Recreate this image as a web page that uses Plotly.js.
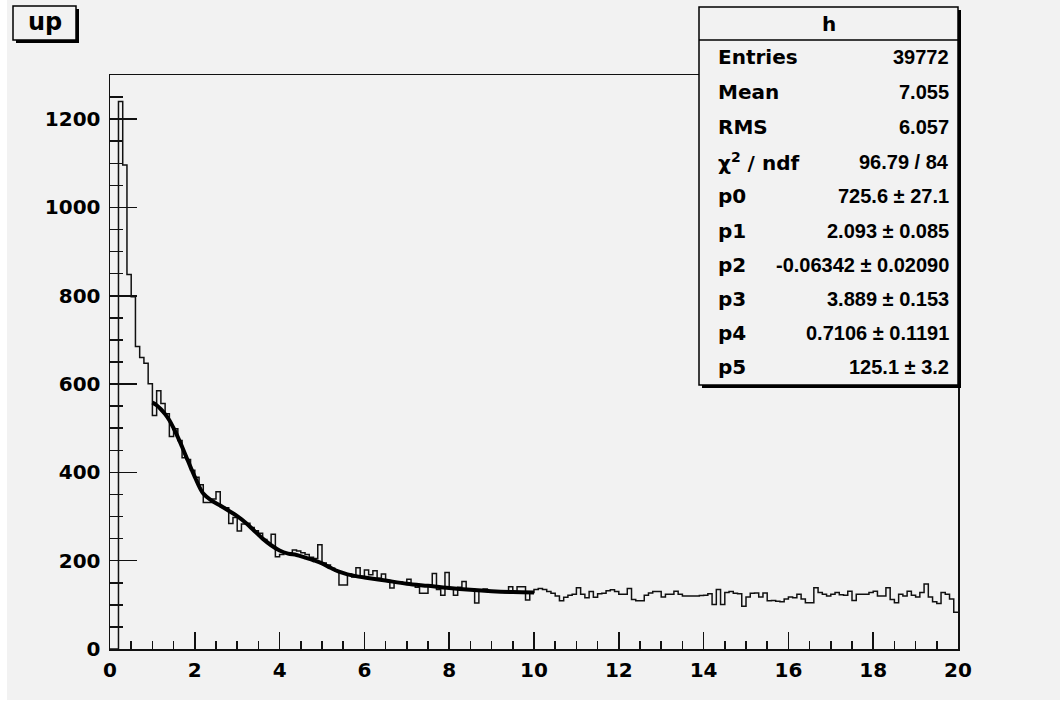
<!DOCTYPE html>
<html>
<head>
<meta charset="utf-8">
<script src="https://cdn.plot.ly/plotly-3.0.1.min.js"></script>
<style>
  html, body { margin: 0; padding: 0; background: #ffffff; }
  #chart { position: absolute; left: 7px; top: 0px; width: 1053px; height: 700px; }
</style>
</head>
<body>
<div id="chart"></div>
<script>
// ---- histogram "h": 200 bins from 0 to 20 ----
const xMin = 0;
const xMax = 20;
const binWidth = 0.1;
const counts = [
  // 0.0 - 0.9
  0, 0, 1240, 1096, 848, 798, 685, 660, 647, 601,
  // 1.0 - 1.9
  529, 585, 556, 533, 481, 499, 472, 433, 429, 405,
  // 2.0 - 2.9
  389, 372, 332, 332, 340, 356, 322, 320, 284, 298,
  // 3.0 - 3.9
  267, 283, 285, 275, 268, 262, 248, 240, 260, 209,
  // 4.0 - 4.9
  214, 218, 218, 224, 222, 218, 214, 208, 205, 236,
  // 5.0 - 5.9
  195, 190, 183, 177, 145, 145, 170, 163, 184, 165,
  // 6.0 - 6.9
  179, 168, 177, 160, 170, 155, 138, 150, 152, 147,
  // 7.0 - 7.9
  158, 148, 140, 126, 126, 145, 171, 135, 122, 173,
  // 8.0 - 8.9
  137, 122, 140, 153, 135, 136, 104, 134, 136, 130,
  // 9.0 - 9.9
  132, 130, 131, 128, 141, 128, 141, 141, 111, 128,
  // 10.0 - 10.9
  135, 137, 135, 130, 126, 120, 109, 117, 122, 124,
  // 11.0 - 11.9
  139, 124, 116, 130, 117, 125, 126, 132, 134, 130,
  // 12.0 - 12.9
  124, 124, 137, 112, 109, 109, 122, 127, 130, 130,
  // 13.0 - 13.9
  118, 124, 124, 131, 124, 120, 120, 120, 120, 121,
  // 14.0 - 14.9
  122, 125, 101, 135, 101, 128, 130, 126, 125, 97,
  // 15.0 - 15.9
  118, 126, 127, 118, 127, 109, 110, 108, 107, 113,
  // 16.0 - 16.9
  118, 116, 124, 113, 105, 105, 139, 128, 124, 120,
  // 17.0 - 17.9
  124, 128, 123, 122, 131, 110, 124, 124, 124, 128,
  // 18.0 - 18.9
  131, 120, 120, 139, 112, 105, 124, 120, 131, 122,
  // 19.0 - 19.9
  118, 128, 147, 118, 107, 103, 128, 124, 113, 83
];

// ---- fit function, range 1 - 10 ----
const fitX = [1.0, 1.1, 1.2, 1.3, 1.4, 1.5, 1.6, 1.7, 1.8, 1.9, 2.0, 2.2, 2.4, 2.6, 2.8,
              3.0, 3.2, 3.4, 3.6, 3.8, 4.0, 4.2, 4.4, 4.6, 4.8, 5.0, 5.2, 5.4, 5.6, 5.8,
              6.0, 6.5, 7.0, 7.5, 8.0, 8.5, 9.0, 9.5, 10.0];
const fitY = [558, 552, 543, 532, 518, 500, 480, 458, 435, 412, 390, 352, 336, 325, 313,
              301, 286, 268, 250, 235, 223, 216, 213, 207, 201, 194, 184, 175, 169, 165,
              162, 155, 148, 143, 138, 134, 131, 129, 128];

// ---- axis ticks ----
const xTickVals = [0, 2, 4, 6, 8, 10, 12, 14, 16, 18, 20];
const xTickText = ["0", "2", "4", "6", "8", "10", "12", "14", "16", "18", "20"];
const yTickVals = [0, 200, 400, 600, 800, 1000, 1200];
const yTickText = ["0", "200", "400", "600", "800", "1000", "1200"];

// ---- statistics box ----
const histName = "h";
const statLabels = ["Entries", "Mean", "RMS", "\u03c7<sup>2</sup> / ndf", "p0", "p1", "p2", "p3", "p4", "p5"];
const statValues = ["39772", "7.055", "6.057", "96.79 / 84", "725.6 \u00b1 27.1", "2.093 \u00b1 0.085",
                    "-0.06342 \u00b1 0.02090", "3.889 \u00b1 0.153", "0.7106 \u00b1 0.1191", "125.1 \u00b1 3.2"];
const padTitle = "up";

// build histogram outline from bins
const histX = [];
const histY = [];
for (let i = 0; i < counts.length; i++) {
  histX.push(xMin + i * binWidth);
  histY.push(counts[i]);
}
histX.push(xMax);
histY.push(counts[counts.length - 1]);

// page-pixel -> paper coordinate helpers (plot area: x 110..958, y 75..649)
const PL = 110, PR = 958, PT = 75, PB = 649;
const px = x => (x - PL) / (PR - PL);
const py = y => (PB - y) / (PB - PT);

const FONT = "DejaVu Sans";
const bold = { family: FONT, size: 20, color: "#000", weight: "bold" };
const valFont = { family: "Liberation Sans", size: 20, color: "#000", weight: "bold" };

const traces = [
  {
    x: histX, y: histY, type: "scatter", mode: "lines",
    line: { shape: "hv", color: "#111", width: 1.5 },
    hoverinfo: "skip", cliponaxis: true
  },
  {
    x: fitX, y: fitY, type: "scatter", mode: "lines",
    line: { shape: "spline", color: "#000", width: 4 },
    hoverinfo: "skip"
  }
];

const shapes = [];
const annotations = [];

// stats box with shadow
const bx0 = 699, bx1 = 958, by0 = 7, by1 = 385;
shapes.push({ type: "rect", xref: "paper", yref: "paper", x0: px(bx0 + 3), x1: px(bx1 + 3), y0: py(by0 + 3), y1: py(by1 + 3),
  fillcolor: "#000", line: { width: 0 }, layer: "above" });
shapes.push({ type: "rect", xref: "paper", yref: "paper", x0: px(bx0), x1: px(bx1), y0: py(by0), y1: py(by1),
  fillcolor: "#f2f2f2", line: { color: "#000", width: 1.5 }, layer: "above" });
shapes.push({ type: "line", xref: "paper", yref: "paper", x0: px(bx0), x1: px(bx1), y0: py(40), y1: py(40),
  line: { color: "#000", width: 1.5 }, layer: "above" });
annotations.push({ xref: "paper", yref: "paper", x: px((bx0 + bx1) / 2), y: py(24), text: histName,
  showarrow: false, xanchor: "center", yanchor: "middle", font: bold });
const rowY = [57, 92, 127, 162, 196, 231, 265, 299, 333, 367];
for (let i = 0; i < statLabels.length; i++) {
  annotations.push({ xref: "paper", yref: "paper", x: px(716), y: py(rowY[i]), text: statLabels[i],
    showarrow: false, xanchor: "left", yanchor: "middle", font: bold });
  annotations.push({ xref: "paper", yref: "paper", x: px(951), y: py(rowY[i]), text: statValues[i],
    showarrow: false, xanchor: "right", yanchor: "middle", font: valFont });
}

// pad title box "up"
shapes.push({ type: "rect", xref: "paper", yref: "paper", x0: px(16), x1: px(79), y0: py(9), y1: py(43),
  fillcolor: "#000", line: { width: 0 }, layer: "above" });
shapes.push({ type: "rect", xref: "paper", yref: "paper", x0: px(13), x1: px(76), y0: py(6), y1: py(40),
  fillcolor: "#f2f2f2", line: { color: "#000", width: 1.5 }, layer: "above" });
annotations.push({ xref: "paper", yref: "paper", x: px(44.5), y: py(22), text: padTitle,
  showarrow: false, xanchor: "center", yanchor: "middle", font: { family: FONT, size: 24, color: "#000", weight: "bold" } });

const layout = {
  width: 1053, height: 700,
  margin: { l: PL - 7, r: 1060 - PR, t: PT, b: 700 - PB, pad: 0 },
  paper_bgcolor: "#f2f2f2",
  plot_bgcolor: "#f2f2f2",
  showlegend: false,
  xaxis: {
    range: [xMin, xMax], showgrid: false, zeroline: false,
    showline: true, mirror: true, linecolor: "#111", linewidth: 1.5,
    ticks: "inside", ticklen: 17, tickwidth: 1.5, tickcolor: "#111",
    tickmode: "array", tickvals: xTickVals, ticktext: xTickText,
    minor: { dtick: 0.5, ticks: "inside", ticklen: 8, tickwidth: 1.5, tickcolor: "#111", showgrid: false },
    tickfont: bold, ticklabelstandoff: 2
  },
  yaxis: {
    range: [0, 1300], showgrid: false, zeroline: false,
    showline: true, mirror: true, linecolor: "#111", linewidth: 1.5,
    ticks: "inside", ticklen: 27, tickwidth: 1.5, tickcolor: "#111",
    tickmode: "array", tickvals: yTickVals, ticktext: yTickText,
    minor: { dtick: 50, ticks: "inside", ticklen: 13, tickwidth: 1.5, tickcolor: "#111", showgrid: false },
    tickfont: bold, ticklabelstandoff: 4
  },
  shapes: shapes,
  annotations: annotations
};

Plotly.newPlot("chart", traces, layout, { displayModeBar: false, staticPlot: true });
</script>
</body>
</html>
